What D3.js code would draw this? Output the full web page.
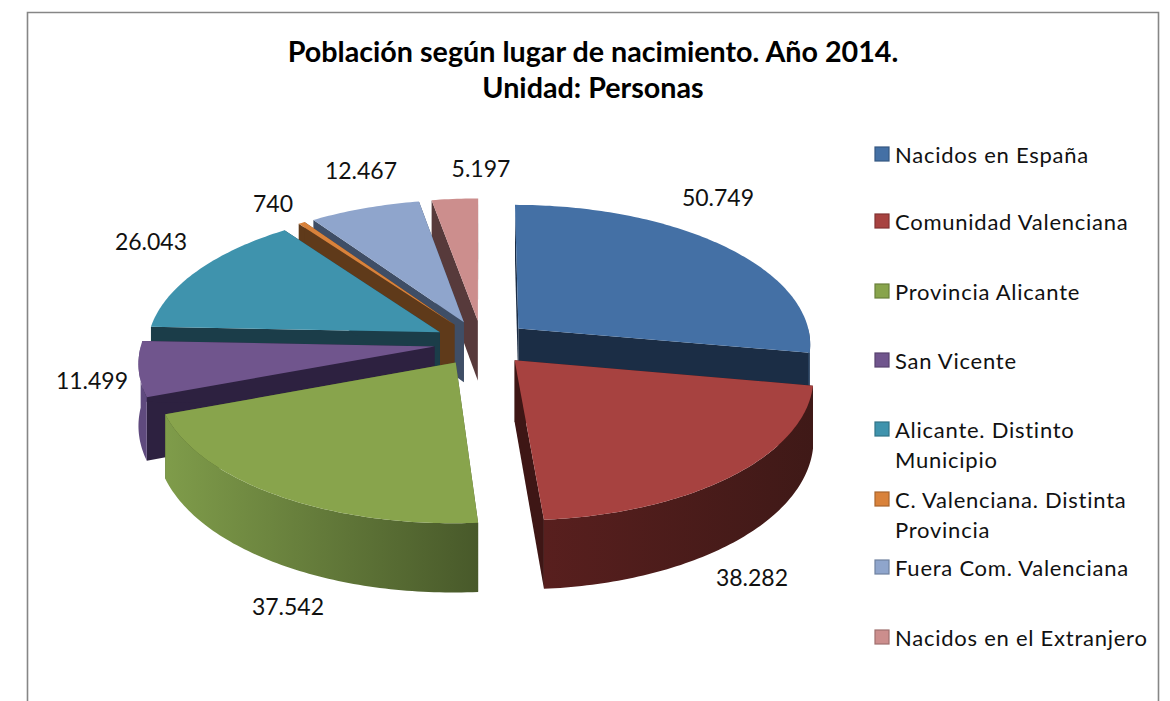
<!DOCTYPE html>
<html lang="es">
<head>
<meta charset="utf-8">
<script src="https://cdn.jsdelivr.net/npm/d3@7/dist/d3.min.js"></script>
<style>
html,body{margin:0;padding:0;background:#fff;overflow:hidden}
svg{display:block}
text{font-family:Lato,"Open Sans",sans-serif;fill:#111}
</style>
</head>
<body>
<svg id="c" width="1170" height="701"></svg>
<script>
// ---- data ----
const categories = ["Nacidos en España","Comunidad Valenciana","Provincia Alicante","San Vicente","Alicante. Distinto Municipio","C. Valenciana. Distinta Provincia","Fuera Com. Valenciana","Nacidos en el Extranjero"];
const values = [50749,38282,37542,11499,26043,740,12467,5197];
const valueLabels = ["50.749","38.282","37.542","11.499","26.043","740","12.467","5.197"];
const titleLines = ["Población según lugar de nacimiento. Año 2014.","Unidad: Personas"];
const legendLines = [["Nacidos en España"],["Comunidad Valenciana"],["Provincia Alicante"],["San Vicente"],["Alicante. Distinto","Municipio"],["C. Valenciana. Distinta","Provincia"],["Fuera Com. Valenciana"],["Nacidos en el Extranjero"]];

// ---- styles ----
const topColors  = ["#4470a5","#a74240","#88a44c","#70558d","#3f93ad","#d9823b","#8fa5cc","#cc8e8d"];
const sideColors = ["#1b2d45","#3e1615","#48592a","#2d2140","#1b3d49","#5f3a1a","#3f4e66","#573a3b"];
const wallLeft   = ["#2a4463","#581f1e","#7f9c4a","#5f4a7e","#2a6273","#8a5526","#566a8c","#8a5c5b"];
const wallRight  = ["#2a4463","#3f1917","#48592a","#5f4a7e","#2a6273","#8a5526","#566a8c","#8a5c5b"];
const paintOrder = [7,6,5,4,3,2,0,1];

// ---- layout ----
const svg = d3.select("#c");
const cx = 482, cy = 343, radius = 293, explode = 48, tilt = 0.476, persp = 0.000358, depth = 61;
const labelAnchors = [[718,197],[752,577],[288,606],[92,380],[151,241],[273,203],[361,170],[481,168]];
const legendY = [155,222,292,361,430,500,568,638];

const defs = svg.append("defs");
svg.append("path")
  .attr("d","M27.5,701V12.5H1158.5V701")
  .attr("fill","#fff").attr("stroke","#868686").attr("stroke-width",1.6);

const pie = d3.pie().sort(null).value(d => d);
const slices = pie(values);
const line = d3.line();

// plan-view point -> screen point, z lowers the point by the chart's thickness
function project(X, Y, z){
  const s = 1/(1 - persp*Y);
  return [cx + X*s, cy + (tilt*Y + z*depth)*s];
}
function pointAt(slice, angle, r, z){
  const mid = (slice.startAngle + slice.endAngle)/2;
  const ox = explode*Math.sin(mid), oy = -explode*Math.cos(mid);
  return project(ox + r*Math.sin(angle), oy - r*Math.cos(angle), z);
}
function rim(slice, z, from = slice.startAngle, to = slice.endAngle){
  const n = Math.max(2, Math.ceil((to - from)*60));
  return d3.range(n+1).map(i => pointAt(slice, from + (to-from)*i/n, radius, z));
}
const closed = pts => line(pts) + "Z";

paintOrder.forEach(i => {
  const sl = slices[i];
  const g = svg.append("g").attr("class","slice");
  const top = rim(sl,0), bot = rim(sl,1);
  const a0 = pointAt(sl,0,0,0), a1 = pointAt(sl,0,0,1);

  const grad = defs.append("linearGradient").attr("id","w"+i)
    .attr("gradientUnits","userSpaceOnUse")
    .attr("x1",d3.min(top,p=>p[0])).attr("x2",d3.max(top,p=>p[0])).attr("y1",0).attr("y2",0);
  grad.append("stop").attr("offset","0%").attr("stop-color",wallLeft[i]);
  grad.append("stop").attr("offset","100%").attr("stop-color",wallRight[i]);

  // radial walls first
  [[top[0],bot[0]],[top[top.length-1],bot[bot.length-1]]].forEach(([t,b]) => {
    g.append("path").attr("d",closed([a0,t,b,a1])).attr("fill",sideColors[i]);
  });
  // outer wall: only the part of the rim that faces the viewer
  const from = Math.max(sl.startAngle, Math.PI/2), to = Math.min(sl.endAngle, 3*Math.PI/2);
  if (to > from) {
    const ft = rim(sl,0,from,to), fb = rim(sl,1,from,to);
    g.append("path").attr("d",closed(ft.concat(fb.slice().reverse()))).attr("fill",`url(#w${i})`);
  }
  g.append("path").attr("d",closed([a0].concat(top))).attr("fill",topColors[i]);
});

// value labels
svg.append("g").selectAll("text").data(valueLabels).join("text")
  .attr("x",(d,i)=>labelAnchors[i][0]).attr("y",(d,i)=>labelAnchors[i][1])
  .attr("text-anchor","middle").attr("dominant-baseline","central")
  .attr("font-size",23).text(d=>d);

// title
svg.append("g").selectAll("text").data(titleLines).join("text")
  .attr("x",593).attr("y",(d,i)=>62+i*36)
  .attr("text-anchor","middle").attr("font-weight",700).attr("font-size",28.7).style("fill","#000").text(d=>d);

// legend
const legend = svg.append("g");
categories.forEach((c,i) => {
  legend.append("rect").attr("x",875).attr("y",legendY[i]-8).attr("width",14).attr("height",14)
    .attr("fill",topColors[i]).attr("stroke",d3.color(topColors[i]).darker(0.7)).attr("stroke-width",1.2);
  legendLines[i].forEach((t,j) => {
    legend.append("text").attr("x",895).attr("y",legendY[i]+j*30-1)
      .attr("dominant-baseline","central").attr("font-size",22).attr("letter-spacing",0.75).text(t);
  });
});
</script>
</body>
</html>
